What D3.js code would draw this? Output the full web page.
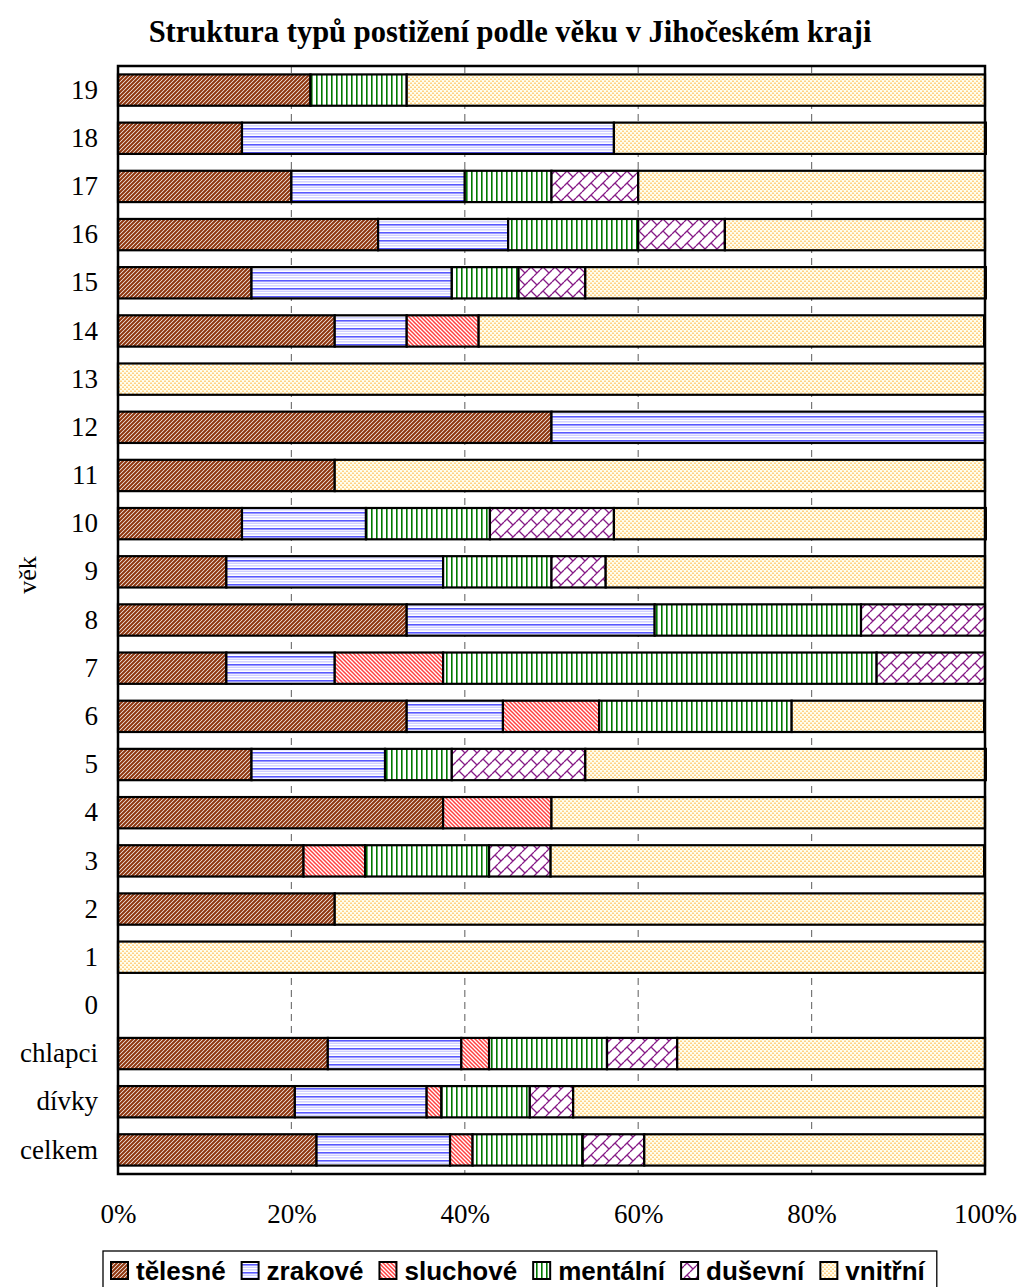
<!DOCTYPE html>
<html>
<head>
<meta charset="utf-8">
<script src="https://cdn.jsdelivr.net/npm/d3@7"></script>
<style>
  html, body { margin: 0; padding: 0; background: #fff; }
  svg { display: block; }
</style>
</head>
<body>
<svg id="chart" width="1018" height="1287"></svg>
<script>
// Age groups (top to bottom) and the share of each disability type, in %
const categories = ["19","18","17","16","15","14","13","12","11","10","9","8","7","6","5","4","3","2","1","0","chlapci","dívky","celkem"];
const seriesNames = ["tělesné","zrakové","sluchové","mentální","duševní","vnitřní"];
const telesne  = [22.2,14.3,20,30,15.4,25,0,50,25,14.3,12.5,33.3,12.5,33.3,15.4,37.5,21.4,25,0,0,24.2,20.4,22.9];
const zrakove  = [0,42.9,20,15,23.1,8.3,0,50,0,14.3,25,28.6,12.5,11.1,15.4,0,0,0,0,0,15.4,15.2,15.4];
const sluchove = [0,0,0,0,0,8.3,0,0,0,0,0,0,12.5,11.1,0,12.5,7.1,0,0,0,3.2,1.7,2.6];
const mentalni = [11.1,0,10,15,7.7,0,0,0,0,14.3,12.5,23.8,50,22.2,7.7,0,14.3,0,0,0,13.6,10.2,12.7];
const dusevni  = [0,0,10,10,7.7,0,0,0,0,14.3,6.25,14.3,12.5,0,15.4,0,7.1,0,0,0,8.1,5.0,7.1];
const vnitrni  = [66.7,42.9,40,30,46.2,58.3,100,0,75,42.9,43.75,0,0,22.2,46.2,50,50,75,100,0,35.5,47.5,39.3];
const xTicks = [0,20,40,60,80,100];
const titleText = "Struktura typů postižení podle věku v Jihočeském kraji";
const yTitle = "věk";

const seriesValues = [telesne, zrakove, sluchove, mentalni, dusevni, vnitrni];
const rows = categories.map((c, i) => {
  const r = { cat: c };
  seriesNames.forEach((s, j) => { r[s] = seriesValues[j][i]; });
  return r;
});

const svg = d3.select("#chart");
const plot = { left: 118, right: 985, top: 66, bottom: 1174 };

// ---- fill patterns ----
const defs = svg.append("defs");
function pat(id, w, h, build) {
  const p = defs.append("pattern").attr("id", id)
    .attr("patternUnits", "userSpaceOnUse").attr("width", w).attr("height", h);
  build(p);
}
pat("p0", 4, 4, p => {
  p.append("rect").attr("width", 4).attr("height", 4).attr("fill", "#fff");
  p.append("path").attr("d", "M-1,1 l2,-2 M0,4 l4,-4 M3,5 l2,-2")
    .attr("stroke", "#8e360e").attr("stroke-width", 2.1);
});
pat("p1", 8, 8, p => {
  p.append("rect").attr("width", 8).attr("height", 8).attr("fill", "#fff");
  p.append("rect").attr("y", 0).attr("width", 8).attr("height", 1.6).attr("fill", "#5858ff");
  p.append("rect").attr("y", 2.7).attr("width", 8).attr("height", 1.1).attr("fill", "#c4c4ff");
  p.append("rect").attr("y", 5.3).attr("width", 8).attr("height", 1.1).attr("fill", "#c4c4ff");
});
pat("p2", 4, 4, p => {
  p.append("rect").attr("width", 4).attr("height", 4).attr("fill", "#fff");
  p.append("path").attr("d", "M-1,3 l2,2 M0,0 l4,4 M3,-1 l2,2")
    .attr("stroke", "#ff4040").attr("stroke-width", 1.5);
});
pat("p3", 5, 5, p => {
  p.append("rect").attr("width", 5).attr("height", 5).attr("fill", "#fff");
  p.append("rect").attr("x", 1).attr("width", 1.6).attr("height", 5).attr("fill", "#007a00");
});
pat("p4", 12, 12, p => {
  p.append("rect").attr("width", 12).attr("height", 12).attr("fill", "#fff");
  p.append("path").attr("d", "M0,6 L6,0 M6,12 L12,6 M3,3 L9,9")
    .attr("stroke", "#861a86").attr("stroke-width", 1.3).attr("fill", "none");
});
pat("p5", 4, 4, p => {
  p.append("rect").attr("width", 4).attr("height", 4).attr("fill", "#fffff0");
  p.append("rect").attr("x", 0.5).attr("y", 0.5).attr("width", 1).attr("height", 1.5).attr("fill", "#ffa31a");
  p.append("rect").attr("x", 2.5).attr("y", 2.5).attr("width", 1).attr("height", 1.5).attr("fill", "#ffa31a");
});

// ---- scales ----
const x = d3.scaleLinear().domain([0, 100]).range([plot.left, plot.right]);
const y = d3.scaleBand().domain(categories).range([plot.top, plot.bottom])
  .paddingInner(0.35).paddingOuter(0.175);

// ---- gridlines ----
svg.append("g").selectAll("line").data(xTicks.filter(t => t > 0 && t < 100)).join("line")
  .attr("x1", d => x(d)).attr("x2", d => x(d))
  .attr("y1", plot.top).attr("y2", plot.bottom)
  .attr("stroke", "#777").attr("stroke-width", 1.2).attr("stroke-dasharray", "7,5");

// ---- stacked bars ----
const stack = d3.stack().keys(seriesNames)(rows);
svg.append("g").selectAll("g").data(stack).join("g")
  .attr("fill", (d, i) => `url(#p${i})`)
  .selectAll("rect").data(d => d.filter(s => s[1] - s[0] > 0)).join("rect")
  .attr("x", d => x(d[0]))
  .attr("y", d => y(d.data.cat))
  .attr("width", d => x(d[1]) - x(d[0]))
  .attr("height", y.bandwidth())
  .attr("stroke", "#000").attr("stroke-width", 2.2);

// ---- plot frame ----
svg.append("rect")
  .attr("x", plot.left).attr("y", plot.top)
  .attr("width", plot.right - plot.left).attr("height", plot.bottom - plot.top)
  .attr("fill", "none").attr("stroke", "#000").attr("stroke-width", 2.5);

// ---- axes ----
const serif = "'Liberation Serif', 'Times New Roman', serif";
const yAxis = svg.append("g").attr("transform", `translate(${plot.left},0)`)
  .call(d3.axisLeft(y).tickSize(0).tickPadding(20));
yAxis.select(".domain").remove();
yAxis.selectAll("text").attr("font-family", serif).attr("font-size", 27).attr("fill", "#000");

const xAxis = svg.append("g").attr("transform", `translate(0,${plot.bottom})`)
  .call(d3.axisBottom(x).tickValues(xTicks).tickFormat(d => d + "%").tickSize(0).tickPadding(30));
xAxis.select(".domain").remove();
xAxis.selectAll("text").attr("font-family", serif).attr("font-size", 27).attr("fill", "#000");

svg.append("text")
  .attr("transform", "translate(36,575) rotate(-90)")
  .attr("text-anchor", "middle")
  .attr("font-family", serif).attr("font-size", 26)
  .text(yTitle);

svg.append("text")
  .attr("x", 510).attr("y", 42)
  .attr("text-anchor", "middle")
  .attr("font-family", serif).attr("font-weight", "bold").attr("font-size", 30.5)
  .text(titleText);

// ---- legend ----
const legend = svg.append("g");
const legBox = legend.append("rect")
  .attr("y", 1251).attr("height", 50)
  .attr("fill", "#fff").attr("stroke", "#000").attr("stroke-width", 1.3);
let lx = 111;
seriesNames.forEach((name, i) => {
  legend.append("rect").attr("x", lx).attr("y", 1262).attr("width", 17).attr("height", 17)
    .attr("fill", `url(#p${i})`).attr("stroke", "#000").attr("stroke-width", 2);
  const t = legend.append("text").attr("x", lx + 25).attr("y", 1280)
    .attr("font-family", "'Liberation Sans', Arial, sans-serif")
    .attr("font-weight", "bold").attr("font-size", 26).text(name);
  lx += 25 + t.node().getComputedTextLength() + 16;
});
legBox.attr("x", 103).attr("width", lx - 103 - 4);
</script>
</body>
</html>
